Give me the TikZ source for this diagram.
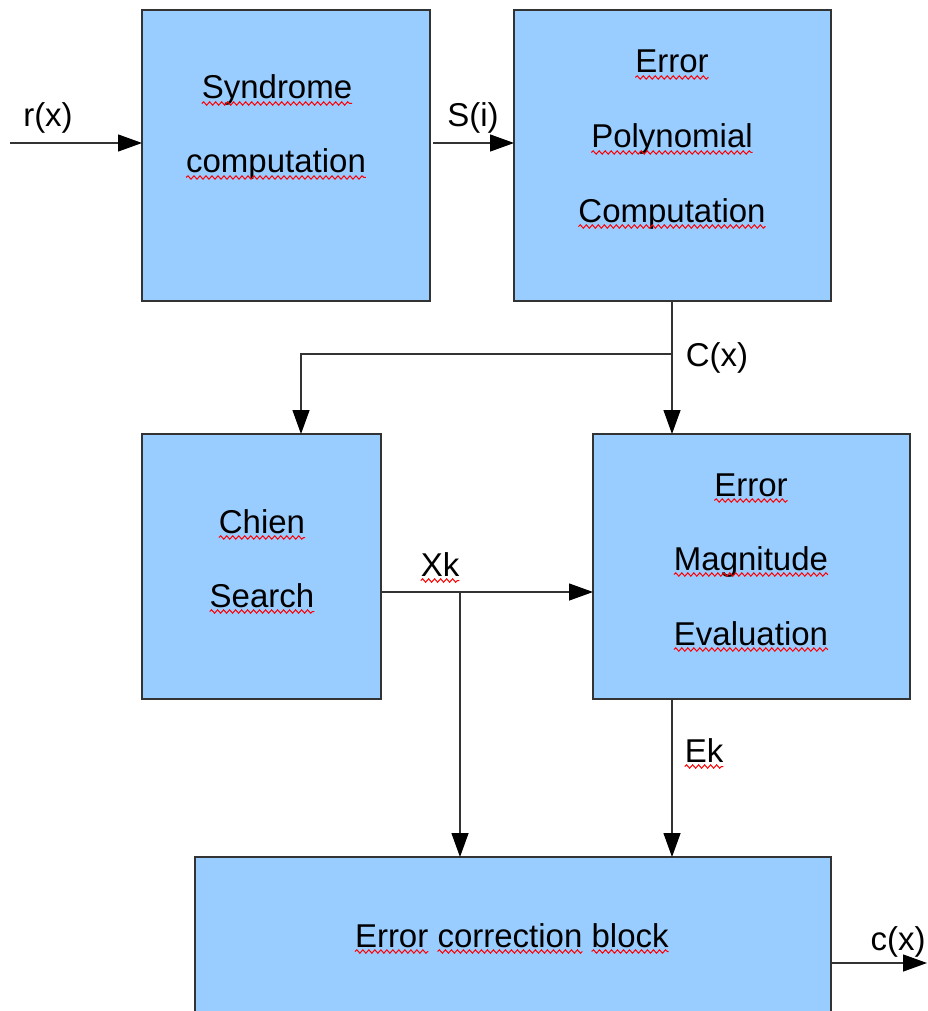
\documentclass[tikz,border=0pt]{standalone}
\usepackage{fontspec}
\setmainfont{Liberation Sans}
\usetikzlibrary{arrows.meta,decorations.pathmorphing}

\definecolor{boxfill}{HTML}{99CCFF}
\definecolor{edge}{HTML}{333333}

\tikzset{
  block/.style={draw=edge, line width=1.4pt, fill=boxfill},
  word/.style={inner sep=0pt, outer sep=0pt, anchor=base,
               font=\fontsize{33}{40}\selectfont},
  link/.style={draw=edge, line width=1.3pt},
  flow/.style={link, -{Triangle[length=24pt,width=17pt,color=black]}},
  squig/.style={draw=red, line width=1pt,
                decorate, decoration={snake, segment length=6pt, amplitude=1.7pt}},
}
% red wavy underline below a word node
\newcommand\wavy[1]{\draw[squig] ([yshift=-4.5pt]#1.base west) -- ([yshift=-4.5pt]#1.base east);}

\begin{document}
\begin{tikzpicture}[x=1pt, y=-1pt]
\useasboundingbox (0,0) rectangle (927,1011);
\clip (0,0) rectangle (927,1011);

% blocks
\path[block] (142,10)  rectangle (430,301);
\path[block] (514,10)  rectangle (831,301);
\path[block] (142,434) rectangle (381,699);
\path[block] (593,434) rectangle (910,699);
\path[block] (195,857) rectangle (831,1030);

% anchor points on block edges
\coordinate (inL) at (10,143);
\coordinate (synW) at (142,143);
\coordinate (synE) at (433,143);
\coordinate (polW) at (514,143);
\coordinate (polS) at (672,301);
\coordinate (split) at (672,354);
\coordinate (bend) at (301,354);
\coordinate (chN) at (301,434);
\coordinate (magN) at (672,434);
\coordinate (chE) at (381,592);
\coordinate (xk) at (460,592);
\coordinate (magW) at (593,592);
\coordinate (magS) at (672,699);
\coordinate (corXk) at (460,857);
\coordinate (corEk) at (672,857);
\coordinate (corE) at (831,963);
\coordinate (outR) at (927,963);

% text inside blocks
\node[word] (s1) at (277,99)  {Syndrome};
\node[word] (s2) at (276,173) {computation};
\node[word] (p1) at (672,73)  {Error};
\node[word] (p2) at (672,148) {Polynomial};
\node[word] (p3) at (672,222) {Computation};
\node[word] (c1) at (262,533) {Chien};
\node[word] (c2) at (262,607) {Search};
\node[word] (m1) at (751,496) {Error};
\node[word] (m2) at (751,570) {Magnitude};
\node[word] (m3) at (751,645) {Evaluation};
\node[word, anchor=base west] (e1) at (355,947) {Error};
\node[word, anchor=base west] (e2) at ([xshift=9.2pt]e1.base east) {correction};
\node[word, anchor=base west] (e3) at ([xshift=9.2pt]e2.base east) {block};

% signal labels
\node[word] (lr) at (48,127)  {r(x)};
\node[word] (ls) at (473,127) {S(i)};
\node[word] (lC) at (717,366) {C(x)};
\node[word] (lX) at (440,576) {Xk};
\node[word] (lE) at (704,762) {Ek};
\node[word] (lc) at (898,950) {c(x)};

\foreach \w in {s1,s2,p1,p2,p3,c1,c2,m1,m2,m3,e1,e2,e3,lX,lE} {\wavy{\w}}

% connectors
\draw[flow] (inL) -- (synW);
\draw[flow] (synE) -- (polW);
\draw[flow] (polS) -- (magN);
\draw[flow] (split) -- (bend) -- (chN);
\draw[flow] (chE) -- (magW);
\draw[flow] (xk) -- (corXk);
\draw[flow] (magS) -- (corEk);
\draw[flow] (corE) -- (outR);
\end{tikzpicture}
\end{document}
